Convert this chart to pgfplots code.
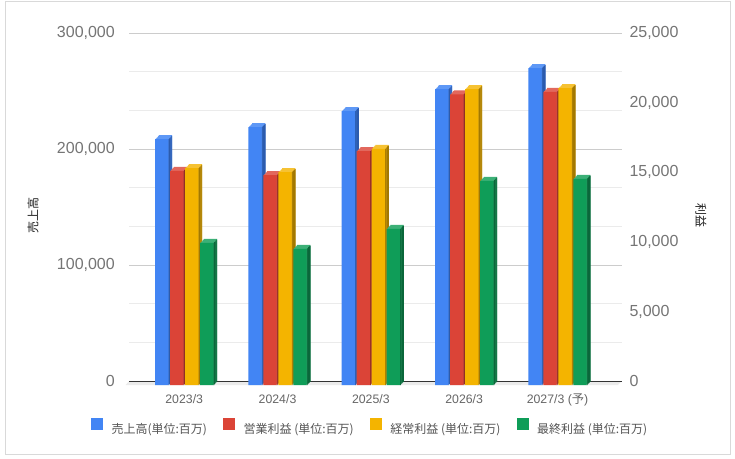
\documentclass[border=0pt]{standalone}
\usepackage{fontspec}
\setmainfont{Liberation Sans}
\newfontfamily\cjk{Noto Sans CJK JP}
\usepackage{pgfplots}
\pgfplotsset{compat=1.18}
\usepackage{pgfplotstable}

\definecolor{gblue}{HTML}{4285F4}\definecolor{gbluet}{HTML}{5E98F6}\definecolor{gblues}{HTML}{2B5BAE}
\definecolor{gred}{HTML}{DB4437}\definecolor{gredt}{HTML}{E2685D}\definecolor{greds}{HTML}{922E24}
\definecolor{gyel}{HTML}{F4B400}\definecolor{gyelt}{HTML}{F6C233}\definecolor{gyels}{HTML}{A37800}
\definecolor{ggrn}{HTML}{0F9D58}\definecolor{ggrnt}{HTML}{3CB077}\definecolor{ggrns}{HTML}{0A673A}
\definecolor{gridmaj}{HTML}{CCCCCC}\definecolor{gridmin}{HTML}{EBEBEB}
\definecolor{tickc}{HTML}{757575}\definecolor{xtickc}{HTML}{666666}
\definecolor{legc}{HTML}{555555}\definecolor{labc}{HTML}{222222}
\definecolor{floorc}{HTML}{EBEBEB}\definecolor{bordc}{HTML}{D9D9D9}\definecolor{basec}{HTML}{333333}

\pgfplotstableread{
x y
0 212100
1 222400
2 236200
3 255200
4 273300
}\tblue
\pgfplotstableread{
x y
0 15400
1 15090
2 16810
3 20900
4 21070
}\tred
\pgfplotstableread{
x y
0 15590
1 15300
2 16980
3 21270
4 21340
}\tyel
\pgfplotstableread{
x y
0 10220
1 9790
2 11230
3 14680
4 14820
}\tgrn

% #1 table, #2 front colour, #3 top colour, #4 side colour, #5 back shift (bp)
\newcommand{\threedbars}[5]{%
  \pgfplotsinvokeforeach{0.2,0.4,0.6,0.8,1}{%
    \addplot[ybar, forget plot, draw=none, fill=#3, bar width=13.3bp,
      bar shift={(#5-3.7+##1*3.7)*1bp}, yshift={(-4+##1*4)*1bp}] table[x=x,y=y] {#1};
  }%
  \pgfplotsinvokeforeach{0,0.2,0.4,0.6,0.8}{%
    \addplot[ybar, forget plot, draw=none, fill=#4, bar width=0.9bp,
      bar shift={(#5-3.7+6.65+0.45+##1*3.7)*1bp}, yshift={(-4+##1*4)*1bp}] table[x=x,y=y] {#1};
  }%
  \addplot[ybar, forget plot, draw=none, fill=#2, bar width=13.3bp,
    bar shift={(#5-3.7)*1bp}, yshift=-4bp] table[x=x,y=y] {#1};
}

\pgfplotsset{
  common/.style={scale only axis, width=492.4bp, height=347.7bp,
    at={(129.3bp,78bp)}, anchor=south west,
    xmin=-0.628, xmax=4.648, ymin=0, clip=false,
    axis line style={draw=none}, major tick length=0pt, minor tick length=0pt,
    /pgf/number format/fixed,
    /pgf/number format/assume math mode=true,
    /pgf/number format/1000 sep={,}, scaled y ticks=false},
  sqlegend/.style={legend image code/.code={\fill[##1] (0bp,-0.8bp) rectangle (12bp,11.5bp);}}
}

\begin{document}
\begin{tikzpicture}
\fill[white] (0,0) rectangle (735bp,459bp);
\path[use as bounding box] (0,0) rectangle (735bp,459bp);
\draw[draw=bordc, line width=1bp] (5bp,4bp) rectangle (730bp,457bp);

\begin{axis}[common, ymax=300000,
  ytick={0,100000,200000,300000}, minor y tick num=2,
  ymajorgrids, yminorgrids,
  major grid style={draw=gridmaj, line width=1bp},
  minor grid style={draw=gridmin, line width=1bp},
  xtick={0,1,2,3,4},
  xticklabels={2023/3,2024/3,2025/3,2026/3,{2027/3 ({\cjk 予})}},
  xticklabel style={anchor=base, yshift=-22.3bp, xshift=-3.7bp, inner sep=0pt,
    font=\fontsize{12.3bp}{14bp}\selectfont, text=xtickc},
  yticklabel style={anchor=east, inner sep=0pt, xshift=-14.3bp,
    font=\fontsize{16bp}{19bp}\selectfont, text=tickc},
]
\fill[floorc] (axis cs:-0.628,0) -- (axis cs:4.648,0)
  -- ([xshift=-3.7bp,yshift=-4bp]axis cs:4.648,0)
  -- ([xshift=-3.7bp,yshift=-4bp]axis cs:-0.628,0) -- cycle;
\draw[basec, line width=1bp] (axis cs:-0.628,0) -- (axis cs:4.648,0);
\threedbars{\tblue}{gblue}{gbluet}{gblues}{-22.5}
\node[rotate=90, font=\cjk\fontsize{12bp}{14bp}\selectfont, text=labc]
  at (axis description cs:-0.1956,0.477) {売上高};
\end{axis}

\begin{axis}[common, ymax=25000,
  ytick={0,5000,10000,15000,20000,25000},
  xtick=\empty, yticklabel pos=right,
  yticklabel style={anchor=west, inner sep=0pt, xshift=7.6bp,
    font=\fontsize{16bp}{19bp}\selectfont, text=tickc},
  legend columns=4, legend cell align=left,
  legend style={at={(axis description cs:-0.0778,-0.130)}, anchor=west,
    draw=none, fill=none, inner sep=0pt, outer sep=0pt,
    font=\cjk\fontsize{12bp}{14bp}\selectfont, text=legc,
    nodes={inner sep=0pt},
    /tikz/every odd column/.append style={column sep=8.6bp},
    /tikz/every even column/.append style={column sep=16bp}},
]
\threedbars{\tred}{gred}{gredt}{greds}{-7.5}
\threedbars{\tyel}{gyel}{gyelt}{gyels}{7.5}
\threedbars{\tgrn}{ggrn}{ggrnt}{ggrns}{22.5}
\addlegendimage{sqlegend, fill=gblue, draw=none}
\addlegendentry{売上高(単位:百万)}
\addlegendimage{sqlegend, fill=gred, draw=none}
\addlegendentry{営業利益 (単位:百万)}
\addlegendimage{sqlegend, fill=gyel, draw=none}
\addlegendentry{経常利益 (単位:百万)}
\addlegendimage{sqlegend, fill=ggrn, draw=none}
\addlegendentry{最終利益 (単位:百万)}
\node[rotate=-90, font=\cjk\fontsize{12bp}{14bp}\selectfont, text=labc]
  at (axis description cs:1.161,0.4746) {利益};
\end{axis}
\end{tikzpicture}
\end{document}
